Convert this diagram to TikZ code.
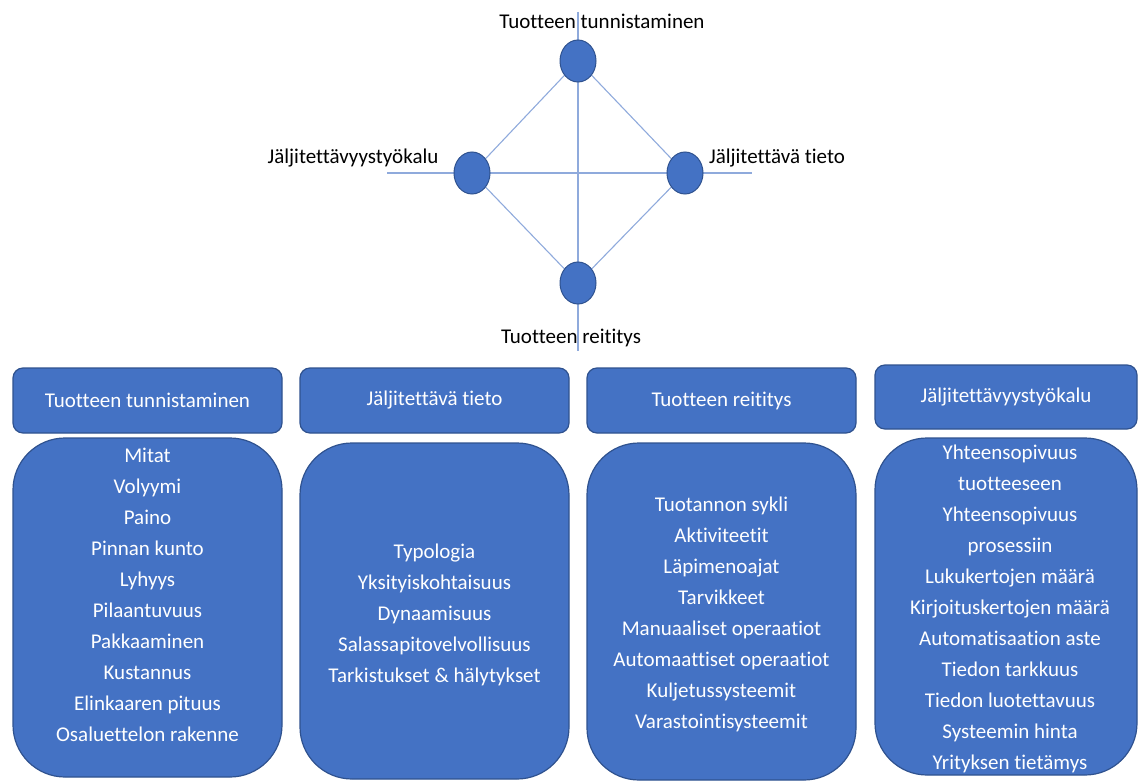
\documentclass[tikz,border=0pt]{standalone}
\usepackage{fontspec}
\setmainfont{Carlito}[Ligatures=NoCommon]
\usetikzlibrary{backgrounds,shapes.geometric}
\definecolor{boxblue}{HTML}{4472C4}
\definecolor{boxedge}{HTML}{2F528F}
\definecolor{linkblue}{HTML}{8FAADC}
\tikzset{
  dot/.style={ellipse, draw=boxedge, line width=1pt, fill=boxblue, minimum width=36pt, minimum height=42pt, inner sep=0pt},
  link/.style={linkblue, line width=1.1pt},
  lbl/.style={font=\fontsize{21}{25}\selectfont, inner sep=0pt},
  head/.style={draw=boxedge, line width=1.2pt, fill=boxblue, rounded corners=10pt, minimum width=269pt, minimum height=65pt, text=white, font=\fontsize{21}{25}\selectfont},
  body/.style={draw=boxedge, line width=1.2pt, fill=boxblue, rounded corners=52pt, minimum width=269pt, inner sep=0pt},
  items/.style={text=white, align=center, font=\fontsize{21}{31}\selectfont, inner sep=0pt}
}
\begin{document}
\begin{tikzpicture}[x=1pt, y=-1pt]
	\useasboundingbox (0,0) rectangle (1138,781);
	\node[dot] (A) at (578,61) {};
	\node[dot] (B) at (472,173) {};
	\node[dot] (C) at (685,173) {};
	\node[dot] (D) at (578,283) {};
	\coordinate (vt) at (578,12);
	\coordinate (vb) at (578,351);
	\coordinate (hl) at (387,173);
	\coordinate (hr) at (752,173);
	\begin{scope}[on background layer]
		\draw[link] (vt) -- (vb);
		\draw[link] (hl) -- (hr);
		\draw[link] (A) -- (B);
		\draw[link] (A) -- (C);
		\draw[link] (D) -- (B);
		\draw[link] (D) -- (C);
	\end{scope}
	\node[lbl] (la) at (602,21) {Tuotteen tunnistaminen};
	\node[lbl] (lb) at (353,158) {Jäljitettävyystyökalu};
	\node[lbl] (lc) at (777,158) {Jäljitettävä tieto};
	\node[lbl] (ld) at (571,338) {Tuotteen reititys};

	% otsikot
	\node[head] (h1) at (147.5,400.5) {Tuotteen tunnistaminen};
	\node[head] (h2) at (434.5,400.5) {Jäljitettävä tieto};
	\node[head] (h3) at (721.5,400.5) {Tuotteen reititys};
	\node[head, minimum width=262pt, minimum height=64pt] (h4) at (1006,397) {Jäljitettävyystyökalu};

	% listat
	\node[body, minimum height=339pt] (b1) at (147.5,607.5) {};
	\node[items] (l1) at (147.5,595) {Mitat\\Volyymi\\Paino\\Pinnan kunto\\Lyhyys\\Pilaantuvuus\\Pakkaaminen\\Kustannus\\Elinkaaren pituus\\Osaluettelon rakenne};
	\node[body, minimum height=336pt] (b2) at (434.5,611) {};
	\node[items] (l2) at (434.5,615) {Typologia\\Yksityiskohtaisuus\\Dynaamisuus\\Salassapitovelvollisuus\\Tarkistukset \& hälytykset};
	\node[body, minimum height=337pt] (b3) at (721.5,611.5) {};
	\node[items] (l3) at (721.5,614) {Tuotannon sykli\\Aktiviteetit\\Läpimenoajat\\Tarvikkeet\\Manuaaliset operaatiot\\Automaattiset operaatiot\\Kuljetussysteemit\\Varastointisysteemit};
	\node[body, minimum width=262pt, minimum height=337pt] (b4) at (1006,606.5) {};
	\node[items] (l4) at (1010,609) {Yhteensopivuus\\tuotteeseen\\Yhteensopivuus\\prosessiin\\Lukukertojen määrä\\Kirjoituskertojen määrä\\Automatisaation aste\\Tiedon tarkkuus\\Tiedon luotettavuus\\Systeemin hinta\\Yrityksen tietämys};
\end{tikzpicture}
\end{document}
